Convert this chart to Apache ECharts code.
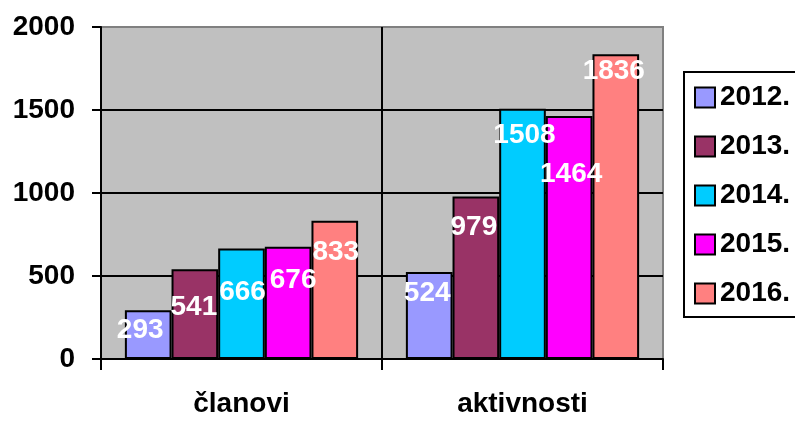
<!DOCTYPE html>
<html>
<head>
    <meta charset="utf-8">
    <title>ECharts</title>
    <script src="https://cdn.jsdelivr.net/npm/echarts@6.0.0/dist/echarts.min.js"></script>
    <style>
        html, body { margin: 0; padding: 0; background: #fff; }
    </style>
</head>
<body>
<div id="main" style="width:795px;height:421px;"></div>
<script type="text/javascript">
// data
var categories = ['članovi', 'aktivnosti'];
var years = ['2012.', '2013.', '2014.', '2015.', '2016.'];
var v2012 = [293, 524];
var v2013 = [541, 979];
var v2014 = [666, 1508];
var v2015 = [676, 1464];
var v2016 = [833, 1836];
var yTicks = [0, 500, 1000, 1500, 2000];

var colors = ['#9999FF', '#993366', '#00CCFF', '#FF00FF', '#FF8080'];
// where each value label sits in the picture: px below bar top, px right of bar middle
var labelDrop = [[20, 21], [38, 31], [44, 27], [33, 58], [32, 17]];
var labelShift = [[-8, -2], [-1, -2], [1, 2], [5, 2], [1, -2]];

var font = '"Liberation Sans", Arial, sans-serif';
var valueSets = [v2012, v2013, v2014, v2015, v2016];

var series = years.map(function (name, s) {
    return {
        name: name,
        type: 'bar',
        barGap: '0%',
        barCategoryGap: '17%',
        itemStyle: { color: colors[s], borderColor: '#000', borderWidth: 2 },
        label: {
            show: true,
            color: '#fff',
            fontFamily: font,
            fontWeight: 'bold',
            fontSize: 28,
            align: 'center',
            verticalAlign: 'middle'
        },
        emphasis: { disabled: true },
        data: valueSets[s].map(function (v, c) {
            return {
                value: v,
                label: {
                    position: ['50%', labelDrop[s][c]],
                    offset: [labelShift[s][c], 0]
                }
            };
        })
    };
});

var myChart = echarts.init(document.getElementById('main'));
myChart.setOption({
    animation: false,
    grid: {
        left: 101,
        right: 132,
        top: 27,
        bottom: 62,
        show: true,
        backgroundColor: '#C0C0C0',
        borderColor: '#808080',
        borderWidth: 2
    },
    legend: {
        orient: 'vertical',
        left: 684,
        top: 72,
        padding: [10, 10, 8, 10],
        itemWidth: 20,
        itemHeight: 20,
        itemGap: 18,
        icon: 'rect',
        backgroundColor: '#fff',
        borderColor: '#000',
        borderWidth: 2,
        borderRadius: 0,
        itemStyle: { borderColor: '#000', borderWidth: 2 },
        textStyle: {
            fontFamily: font,
            fontWeight: 'bold',
            fontSize: 28,
            lineHeight: 31,
            color: '#000'
        },
        data: years
    },
    xAxis: {
        type: 'category',
        data: categories,
        axisLine: { lineStyle: { color: '#000', width: 2 } },
        axisTick: { show: true, length: 11, lineStyle: { color: '#000', width: 2 } },
        splitLine: {
            show: true,
            showMinLine: false,
            showMaxLine: false,
            lineStyle: { color: '#000', width: 2 }
        },
        axisLabel: {
            color: '#000',
            fontFamily: font,
            fontWeight: 'bold',
            fontSize: 28,
            margin: 31
        }
    },
    yAxis: {
        type: 'value',
        min: yTicks[0],
        max: yTicks[yTicks.length - 1],
        interval: yTicks[1] - yTicks[0],
        axisLine: { show: true, lineStyle: { color: '#000', width: 2 } },
        axisTick: { show: true, length: 9, lineStyle: { color: '#000', width: 2 } },
        splitLine: {
            show: true,
            showMaxLine: false,
            lineStyle: { color: '#000', width: 2 }
        },
        axisLabel: {
            color: '#000',
            fontFamily: font,
            fontWeight: 'bold',
            fontSize: 28,
            margin: 26,
            formatter: function (v) { return String(v); }
        }
    },
    series: series
});
</script>
</body>
</html>
